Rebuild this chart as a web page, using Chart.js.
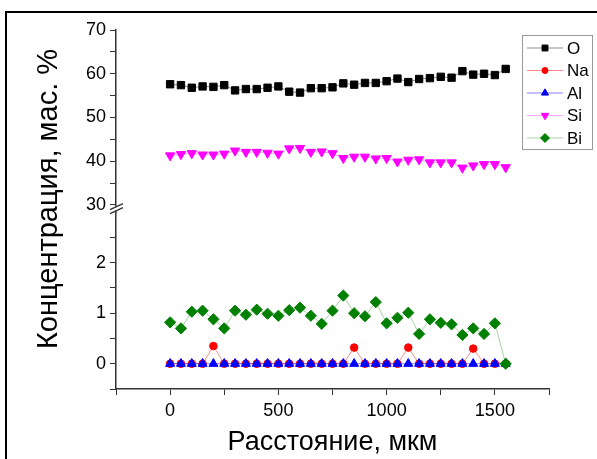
<!DOCTYPE html>
<html>
<head>
<meta charset="utf-8">
<script src="https://cdn.jsdelivr.net/npm/chart.js@4.4.0/dist/chart.umd.min.js"></script>
<style>
  html, body { margin: 0; padding: 0; background: #fff; }
  #wrap { position: relative; width: 597px; height: 459px; overflow: hidden; }
  #frame { position: absolute; left: 5px; top: 11px; width: 600px; height: 460px;
           border-top: 2px solid #000; border-left: 2px solid #000; }
  canvas { position: absolute; left: 0; top: 0; }
</style>
</head>
<body>
<div id="wrap">
  <div id="frame"></div>
  <canvas id="myChart" width="597" height="459"></canvas>
</div>
<script>
const distances = [0, 50, 100, 150, 200, 250, 300, 350, 400, 450, 500, 550, 600, 650, 700, 750,
                   800, 850, 900, 950, 1000, 1050, 1100, 1150, 1200, 1250, 1300, 1350, 1400, 1450, 1500, 1550];

const oxygen = [57.6, 57.4, 56.8, 57.1, 57.0, 57.4, 56.2, 56.5, 56.5, 56.8, 57.1, 55.9, 55.7, 56.7, 56.7, 56.9,
                57.8, 57.5, 57.9, 57.9, 58.3, 58.9, 58.1, 58.8, 59.0, 59.3, 59.1, 60.6, 59.8, 60.0, 59.7, 61.1];
const sodium = [0, 0, 0, 0, 0.35, 0, 0, 0, 0, 0, 0, 0, 0, 0, 0, 0,
                0, 0.32, 0, 0, 0, 0, 0.32, 0, 0, 0, 0, 0, 0.30, 0, 0, 0];
const aluminium = [0, 0, 0, 0, 0, 0, 0, 0, 0, 0, 0, 0, 0, 0, 0, 0,
                   0, 0, 0, 0, 0, 0, 0, 0, 0, 0, 0, 0, 0, 0, 0, 0];
const silicon = [41.3, 41.6, 41.8, 41.5, 41.5, 41.7, 42.4, 42.1, 42.1, 41.9, 41.7, 42.9, 43.0, 42.1, 42.2, 41.8,
                 40.7, 41.0, 41.0, 40.6, 40.7, 39.9, 40.3, 40.4, 39.7, 39.7, 39.7, 38.5, 39.0, 39.3, 39.3, 38.6];
const bismuth = [0.82, 0.70, 1.03, 1.05, 0.88, 0.70, 1.05, 0.97, 1.07, 0.99, 0.95, 1.06, 1.11, 0.95, 0.79, 1.05,
                 1.35, 1.00, 0.94, 1.22, 0.80, 0.91, 1.01, 0.59, 0.88, 0.81, 0.78, 0.57, 0.70, 0.59, 0.80, 0];

const xTickLabels = [0, 500, 1000, 1500];
const yTopLabels = [30, 40, 50, 60, 70];
const yBotLabels = [0, 1, 2];

const FONT = "'Liberation Sans', Arial, sans-serif";
Chart.defaults.font.family = FONT;
Chart.defaults.color = "#000";

function pts(vals) {
  return distances.map((x, i) => ({ x: x, y: vals[i] }));
}

// title for the broken y axis (spans both stacked scales)
const yTitlePlugin = {
  id: "yTitle",
  afterDraw(chart) {
    const ctx = chart.ctx;
    ctx.save();
    ctx.translate(57, 199);
    ctx.rotate(-Math.PI / 2);
    ctx.font = "29px " + FONT;
    ctx.fillStyle = "#000";
    ctx.textAlign = "center";
    ctx.textBaseline = "alphabetic";
    ctx.fillText("Концентрация, мас. %", 0, 0);
    ctx.restore();
  },
};

// the "//" break mark between the two y scales
const breakPlugin = {
  id: "axisBreak",
  afterDraw(chart) {
    const ctx = chart.ctx;
    const x = chart.scales.yBot.right;
    const y = chart.scales.yBot.top - 4;
    ctx.save();
    ctx.fillStyle = "#fff";
    ctx.fillRect(x - 2, y - 2, 4, 4);
    ctx.strokeStyle = "#333";
    ctx.lineWidth = 1.3;
    ctx.beginPath();
    ctx.moveTo(x - 6, y + 1); ctx.lineTo(x + 7, y - 5);
    ctx.moveTo(x - 6, y + 5); ctx.lineTo(x + 7, y - 1);
    ctx.stroke();
    ctx.restore();
  },
};

// boxed legend with line + marker samples
const legendPlugin = {
  id: "boxLegend",
  afterDraw(chart) {
    const ctx = chart.ctx;
    const left = 522, top = 35, w = 70, h = 114, rowH = 22.5;
    const sets = chart.data.datasets;
    ctx.save();
    ctx.strokeStyle = "#999";
    ctx.lineWidth = 1;
    ctx.strokeRect(left + 0.5, top + 0.5, w, h);
    sets.forEach((ds, i) => {
      const y = top + 13 + i * rowH;
      ctx.strokeStyle = ds.borderColor;
      ctx.lineWidth = 1;
      ctx.beginPath();
      ctx.moveTo(left + 5, y);
      ctx.lineTo(left + 41, y);
      ctx.stroke();
      ctx.fillStyle = ds.pointBackgroundColor;
      ctx.strokeStyle = ds.pointBorderColor;
      Chart.helpers.drawPoint(ctx, {
        pointStyle: ds.pointStyle,
        radius: ds.pointRadius * 0.8,
        rotation: ds.pointRotation || 0,
        borderWidth: 1,
      }, left + 23, y);
      ctx.fillStyle = "#000";
      ctx.font = "17px " + FONT;
      ctx.textAlign = "left";
      ctx.textBaseline = "middle";
      ctx.fillText(ds.label, left + 45, y + 1);
    });
    ctx.restore();
  },
};

function series(label, vals, color, line, style, radius, axis, order, rotation) {
  return {
    label: label,
    data: pts(vals),
    yAxisID: axis,
    order: order,
    borderColor: line,
    borderWidth: 1,
    pointStyle: style,
    pointRadius: radius,
    pointRotation: rotation || 0,
    pointBackgroundColor: color,
    pointBorderColor: color,
    pointBorderWidth: 1,
    tension: 0,
    fill: false,
  };
}

const axisColor = "#333";

const myChart = new Chart(document.getElementById("myChart").getContext("2d"), {
  type: "line",
  data: {
    datasets: [
      series("O", oxygen, "#000000", "rgba(0,0,0,0.45)", "rect", 5.2, "yTop", 5),
      series("Na", sodium, "#ff0000", "rgba(255,0,0,0.45)", "circle", 3.8, "yBot", 4),
      series("Al", aluminium, "#0000ff", "rgba(0,0,255,0.5)", "triangle", 5.2, "yBot", 2),
      series("Si", silicon, "#ff00ff", "rgba(255,0,255,0.35)", "triangle", 5.4, "yTop", 3, 180),
      series("Bi", bismuth, "#008000", "rgba(0,128,0,0.35)", "rectRot", 5.6, "yBot", 1),
    ],
  },
  options: {
    responsive: false,
    animation: false,
    layout: {
      padding: { left: 0, top: 30, right: 48, bottom: 0 },
    },
    plugins: {
      legend: { display: false },
      tooltip: { enabled: false },
    },
    scales: {
      x: {
        type: "linear",
        min: -250,
        max: 1750,
        afterFit: (s) => { s.height = 70; },
        ticks: {
          stepSize: 250,
          autoSkip: false,
          maxRotation: 0,
          font: { size: 18 },
          padding: 5,
          callback: (v) => (xTickLabels.includes(v) ? v : ""),
        },
        grid: { drawOnChartArea: false, tickLength: 6, color: axisColor },
        border: { color: axisColor, width: 1.5 },
        title: {
          display: true,
          text: "Расстояние, мкм",
          font: { size: 27 },
          padding: { top: 0, bottom: 0 },
        },
      },
      yBot: {
        type: "linear",
        position: "left",
        stack: "y",
        stackWeight: 176.3,
        min: -0.5,
        max: 2.99,
        afterFit: (s) => { s.width = 116; },
        ticks: {
          stepSize: 0.5,
          autoSkip: false,
          includeBounds: false,
          font: { size: 18 },
          padding: 4,
          callback: (v) => (yBotLabels.includes(v) ? v : ""),
        },
        grid: { drawOnChartArea: false, tickLength: 6, color: axisColor },
        border: { color: axisColor, width: 1.5 },
      },
      yTop: {
        type: "linear",
        position: "left",
        stack: "y",
        stackWeight: 182.7,
        min: 28.24,
        max: 70,
        afterFit: (s) => { s.width = 116; },
        ticks: {
          stepSize: 5,
          autoSkip: false,
          includeBounds: false,
          font: { size: 18 },
          padding: 4,
          callback: (v) => (yTopLabels.includes(v) ? v : ""),
        },
        grid: { drawOnChartArea: false, tickLength: 6, color: axisColor },
        border: { color: axisColor, width: 1.5 },
      },
    },
  },
  plugins: [yTitlePlugin, breakPlugin, legendPlugin],
});
</script>
</body>
</html>
